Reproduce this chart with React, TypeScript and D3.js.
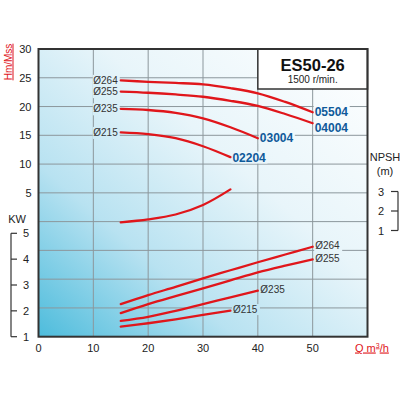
import React from "react";
import * as d3 from "d3";

// ---- data ----
const flowTicks = [0, 10, 20, 30, 40, 50];
const headTicks = [5, 10, 15, 20, 25, 30];
const kwTicks = [1, 2, 3, 4, 5];
const npshTicks = [1, 2, 3];

const q8 = [15, 20, 25, 30, 35, 40, 45, 50];
const q6 = [15, 20, 25, 30, 35, 40];
const q5 = [15, 20, 25, 30, 35];

const head264 = [24.55, 24.3, 24.1, 23.85, 23.2, 22.3, 20.8, 19.0];
const head255 = [22.6, 22.4, 22.1, 21.7, 21.0, 20.1, 18.7, 17.1];
const head235 = [19.6, 19.4, 18.9, 17.95, 16.4, 14.5];
const head215 = [15.5, 15.2, 14.5, 13.1, 11.2];

const kw264 = [2.26, 2.61, 2.93, 3.26, 3.57, 3.88, 4.18, 4.48];
const kw255 = [1.91, 2.26, 2.57, 2.87, 3.18, 3.49, 3.75, 3.99];
const kw235 = [1.61, 1.77, 2.0, 2.26, 2.52, 2.78];
const kw215 = [1.39, 1.52, 1.67, 1.84, 2.01];

const npsh = [1.42, 1.57, 1.82, 2.31, 3.11];

const diameters = ["Ø264", "Ø255", "Ø235", "Ø215"];
const models = ["05504", "04004", "03004", "02204"];

const FONT = "'Liberation Sans', Arial, sans-serif";
const RED = "#e0161b";
const BLUE = "#0f5a9a";

export default function App() {
  const x = d3.scaleLinear().domain([0, 60]).range([38.5, 367.5]);
  const yH = d3.scaleLinear().domain([-20, 30]).range([336.7, 49]);
  const yK = d3.scaleLinear().domain([1, 5]).range([336.7, 233.3]);
  const yN = d3.scaleLinear().domain([1, 3]).range([230.5, 191.5]);

  const [x0, x1] = x.range();
  const top = yH(30);
  const bottom = yH(-20);

  const lineFor = (ys: d3.ScaleLinear<number, number>) =>
    d3
      .line<[number, number]>()
      .x((d) => x(d[0]))
      .y((d) => ys(d[1]))
      .curve(d3.curveCatmullRom.alpha(0.5));

  const zip = (qs: number[], vs: number[]) => qs.map((q, i) => [q, vs[i]] as [number, number]);

  const headSeries = [
    zip(q8, head264),
    zip(q8, head255),
    zip(q6, head235),
    zip(q5, head215),
  ];
  const kwSeries = [
    zip(q8, kw264),
    zip(q8, kw255),
    zip(q6, kw235),
    zip(q5, kw215),
  ];
  const npshSeries = zip(q5, npsh);

  const modelDy = [3.3, 9, 3.7, 4.4];

  // label boxes to hide gridlines
  const holes: { x: number; y: number; w: number; h: number }[] = [];
  headSeries.forEach((s) => {
    const lx = x(s[0][0]) - 3;
    const ly = yH(s[0][1]) + 3.5;
    holes.push({ x: lx - 25, y: ly - 9, w: 27, h: 12 });
  });
  headSeries.forEach((s, i) => {
    const e = s[s.length - 1];
    const lx = x(e[0]) + 2;
    const ly = yH(e[1]) + modelDy[i];
    holes.push({ x: lx - 1, y: ly - 10, w: 36, h: 12 });
  });
  kwSeries.forEach((s) => {
    const e = s[s.length - 1];
    const lx = x(e[0]) + 2.5;
    const ly = yK(e[1]) + 2.5;
    holes.push({ x: lx - 1, y: ly - 9, w: 28, h: 11 });
  });

  const gridYs = d3.range(-15, 30, 5);
  const gridXs = [10, 20, 30, 40, 50];

  return (
    <svg
      width={400}
      height={400}
      style={{ position: "absolute", left: 0, top: 0, background: "#fff" }}
      fontFamily={FONT}
    >
      <defs>
        <linearGradient id="bg" x1="0" y1="1" x2="1" y2="0">
          <stop offset="0" stopColor="#4dbcdc" />
          <stop offset="0.3" stopColor="#b8e2f1" />
          <stop offset="0.6" stopColor="#e8f5fa" />
          <stop offset="1" stopColor="#ffffff" />
        </linearGradient>
        <mask id="gm" maskUnits="userSpaceOnUse" x="0" y="0" width="400" height="400">
          <rect x={0} y={0} width={400} height={400} fill="#fff" />
          {holes.map((h, i) => (
            <rect key={i} x={h.x} y={h.y} width={h.w} height={h.h} fill="#000" />
          ))}
        </mask>
      </defs>

      <rect x={x0} y={top} width={x1 - x0} height={bottom - top} fill="url(#bg)" />

      <g mask="url(#gm)" stroke="#8c979c" strokeWidth={1}>
        {gridXs.map((v) => (
          <line key={"gx" + v} x1={x(v)} x2={x(v)} y1={top} y2={bottom} />
        ))}
        {gridYs.map((v) => (
          <line key={"gy" + v} x1={x0} x2={x1} y1={yH(v)} y2={yH(v)} />
        ))}
      </g>

      {/* title box */}
      <rect
        x={x(40)}
        y={top}
        width={x1 - x(40)}
        height={40}
        fill="#fff"
        stroke="#333"
        strokeWidth={1.5}
      />
      <text x={(x(40) + x1) / 2} y={71} textAnchor="middle" fontSize={16.5} fontWeight="bold" fill="#111">
        ES50-26
      </text>
      <text x={(x(40) + x1) / 2} y={82.5} textAnchor="middle" fontSize={10} fill="#222">
        1500 r/min.
      </text>

      {/* frame */}
      <rect
        x={x0}
        y={top}
        width={x1 - x0}
        height={bottom - top}
        fill="none"
        stroke="#333"
        strokeWidth={2}
      />

      {/* curves */}
      <g fill="none" stroke={RED} strokeWidth={2.3} strokeLinecap="round">
        {headSeries.map((s, i) => (
          <path key={"h" + i} d={lineFor(yH)(s) || ""} />
        ))}
        {kwSeries.map((s, i) => (
          <path key={"k" + i} d={lineFor(yK)(s) || ""} />
        ))}
        <path d={lineFor(yN)(npshSeries) || ""} />
      </g>

      {/* head diameter labels */}
      {headSeries.map((s, i) => (
        <text
          key={"hd" + i}
          x={x(s[0][0]) - 3}
          y={yH(s[0][1]) + 3.5}
          textAnchor="end"
          fontSize={10}
          fill="#333"
        >
          {diameters[i]}
        </text>
      ))}
      {/* model labels */}
      {headSeries.map((s, i) => {
        const e = s[s.length - 1];
        return (
          <text
            key={"m" + i}
            x={x(e[0]) + 2}
            y={yH(e[1]) + modelDy[i]}
            fontSize={12}
            fontWeight="bold"
            fill={BLUE}
          >
            {models[i]}
          </text>
        );
      })}
      {/* power diameter labels */}
      {kwSeries.map((s, i) => {
        const e = s[s.length - 1];
        return (
          <text key={"kd" + i} x={x(e[0]) + 2.5} y={yK(e[1]) + 2.5} fontSize={10} fill="#333">
            {diameters[i]}
          </text>
        );
      })}

      {/* head axis */}
      {headTicks.map((v) => (
        <text key={"ht" + v} x={31.5} y={yH(v) + 4} textAnchor="end" fontSize={11} fill="#222">
          {v}
        </text>
      ))}
      <text
        transform={`translate(11.5, 62) rotate(-90)`}
        textAnchor="middle"
        fontSize={10}
        fill={RED}
        textDecoration="underline"
      >
        Hm/Mss
      </text>

      {/* x axis */}
      {flowTicks.map((v) => (
        <text key={"xt" + v} x={x(v)} y={351.5} textAnchor="middle" fontSize={11} fill="#222">
          {v}
        </text>
      ))}
      <text x={355} y={351.5} fontSize={11} fill={RED} textDecoration="underline">
        Q m<tspan dy={-4} fontSize={7}>3</tspan>
        <tspan dy={4}>/h</tspan>
      </text>

      {/* KW axis */}
      <text x={17} y={222.5} textAnchor="middle" fontSize={11} fill="#222">
        KW
      </text>
      <g stroke="#333" strokeWidth={1.2}>
        <line x1={11} x2={11} y1={yK(5)} y2={yK(1)} />
        {kwTicks.map((v) => (
          <line key={"kl" + v} x1={11} x2={17} y1={yK(v)} y2={yK(v)} />
        ))}
      </g>
      {kwTicks.map((v) => (
        <text key={"kt" + v} x={26} y={yK(v) + 4} textAnchor="middle" fontSize={11} fill="#222">
          {v}
        </text>
      ))}

      {/* NPSH axis */}
      <text x={385} y={161} textAnchor="middle" fontSize={11} fill="#222">
        NPSH
      </text>
      <text x={385} y={174.5} textAnchor="middle" fontSize={11} fill="#222">
        (m)
      </text>
      <g stroke="#333" strokeWidth={1.2}>
        <line x1={398} x2={398} y1={yN(3)} y2={yN(1)} />
        {npshTicks.map((v) => (
          <line key={"nl" + v} x1={391} x2={398} y1={yN(v)} y2={yN(v)} />
        ))}
      </g>
      {npshTicks.map((v) => (
        <text key={"nt" + v} x={381} y={yN(v) + 4} textAnchor="middle" fontSize={11} fill="#222">
          {v}
        </text>
      ))}
    </svg>
  );
}
